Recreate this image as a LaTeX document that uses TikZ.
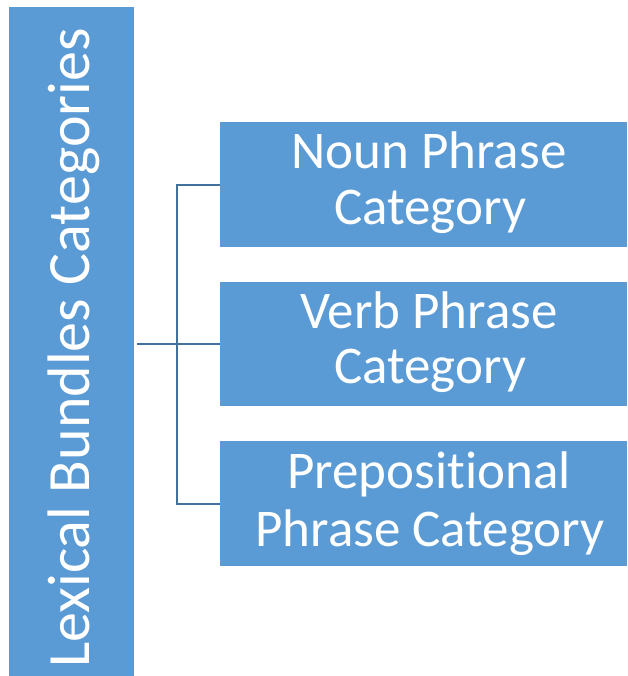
\documentclass[tikz,border=0pt]{standalone}
\usepackage{fontspec}
\setmainfont{Carlito}[Ligatures=NoCommon]
\definecolor{boxblue}{RGB}{91,155,213}
\definecolor{lineblue}{RGB}{65,113,156}
\begin{document}
\begin{tikzpicture}[x=1pt,y=-1pt,
  box/.style={fill=boxblue, draw=none, inner sep=0pt, anchor=north west},
  txt/.style={text=white, inner sep=0pt, anchor=base, font=\fontsize{53}{59}\selectfont},
  conn/.style={draw=lineblue, line width=2pt}]
\useasboundingbox (0,0) rectangle (627,676);
% boxes
\node[box, minimum width=125pt, minimum height=669pt] (lex) at (9,7) {};
\node[box, minimum width=407pt, minimum height=125pt] (noun) at (220,122) {};
\node[box, minimum width=407pt, minimum height=124pt] (verb) at (220,282) {};
\node[box, minimum width=407pt, minimum height=125pt] (prep) at (220,441) {};
% texts
\node[txt, rotate=90, anchor=base west, font=\fontsize{60}{70}\selectfont] (lext) at (89,668)
  {Lexical Bundles Categories};
\node[txt] (n1) at (429,169) {Noun Phrase};
\node[txt] (n2) at (430,224) {Category};
\node[txt] (v1) at (429,328) {Verb Phrase};
\node[txt] (v2) at (430,383) {Category};
\node[txt] (p1) at (429,488) {Prepositional};
\node[txt] (p2) at (430,546) {Phrase Category};
% connectors
\coordinate (bx) at (177,0);
\draw[conn] ([xshift=3pt]lex.east |- verb.west) -- (verb.west);
\draw[conn] (noun.west) -- (bx |- noun.west) -- (bx |- prep.west) -- (prep.west);
\end{tikzpicture}
\end{document}
